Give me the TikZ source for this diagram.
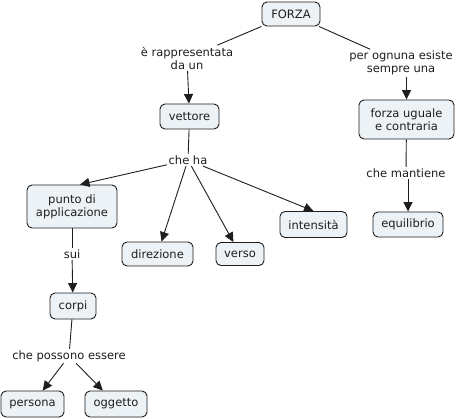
\documentclass[tikz,border=0pt]{standalone}
\usepackage{fontspec}
\setmainfont{DejaVu Sans}
\usetikzlibrary{arrows.meta}
\definecolor{boxfill}{RGB}{236,242,245}
\definecolor{ink}{RGB}{30,30,30}
\tikzset{
  concept/.style={draw=ink, fill=boxfill, rounded corners=5pt, line width=0.9pt,
    align=center, inner xsep=4pt, inner ysep=3pt, text=ink,
    font=\fontsize{11.5}{13}\selectfont},
  link/.style={fill=white, align=center, inner sep=1.5pt, text=ink,
    font=\fontsize{11.5}{13}\selectfont},
  conn/.style={draw=ink, line width=0.9pt},
  arr/.style={conn, -{Triangle[length=9.5pt,width=9pt]}}
}
\begin{document}
\begin{tikzpicture}[x=1pt,y=-1pt]
\useasboundingbox (0,0) rectangle (462,419);
% concepts
\node[concept, minimum width=58, minimum height=24] (forza) at (291,14) {FORZA};
\node[concept, minimum width=59, minimum height=25] (vettore) at (189.5,116.5) {vettore};
\node[concept, minimum width=95, minimum height=39] (uguale) at (406.5,119.5) {forza uguale\\ e contraria};
\node[concept, minimum width=90, minimum height=43] (punto) at (72,206.5) {punto di\\applicazione};
\node[concept, minimum width=71, minimum height=24] (direzione) at (157.5,254) {direzione};
\node[concept, minimum width=48, minimum height=23] (verso) at (240,254) {verso};
\node[concept, minimum width=67, minimum height=26] (intensita) at (313.5,224.5) {intensità};
\node[concept, minimum width=70, minimum height=25] (equilibrio) at (408,224.5) {equilibrio};
\node[concept, minimum width=46, minimum height=26] (corpi) at (73,306) {corpi};
\node[concept, minimum width=63, minimum height=26] (persona) at (32.5,404) {persona};
\node[concept, minimum width=62, minimum height=26] (oggetto) at (116,404) {oggetto};
% link labels
\node[link] (l1) at (187,58) {è rappresentata\\da un};
\node[link] (l2) at (401,63) {per ognuna esiste\\sempre una};
\node[link] (l3) at (188,160) {che ha};
\node[link] (l4) at (406,173) {che mantiene};
\node[link] (l5) at (72,254) {sui};
\node[link] (l6) at (69,356) {che possono essere};
% connectors
\draw[conn] (forza) -- (l1);
\draw[arr] (l1) -- (vettore);
\draw[conn] (forza) -- (l2);
\draw[arr] (l2.south -| uguale.north) -- (uguale);
\draw[conn] (vettore) -- (l3);
\draw[arr] (l3) -- ([xshift=8pt]punto.north);
\draw[arr] (l3) -- (direzione);
\draw[arr] (l3) -- (verso);
\draw[arr] (l3) -- (intensita.north);
\draw[conn] (uguale) -- (l4);
\draw[arr] (l4.south -| equilibrio.north) -- (equilibrio);
\draw[conn] (punto) -- (l5);
\draw[arr] (l5) -- (corpi);
\draw[conn] (corpi) -- (l6);
\draw[arr] (l6) -- (persona);
\draw[arr] (l6) -- (oggetto);
\end{tikzpicture}
\end{document}
